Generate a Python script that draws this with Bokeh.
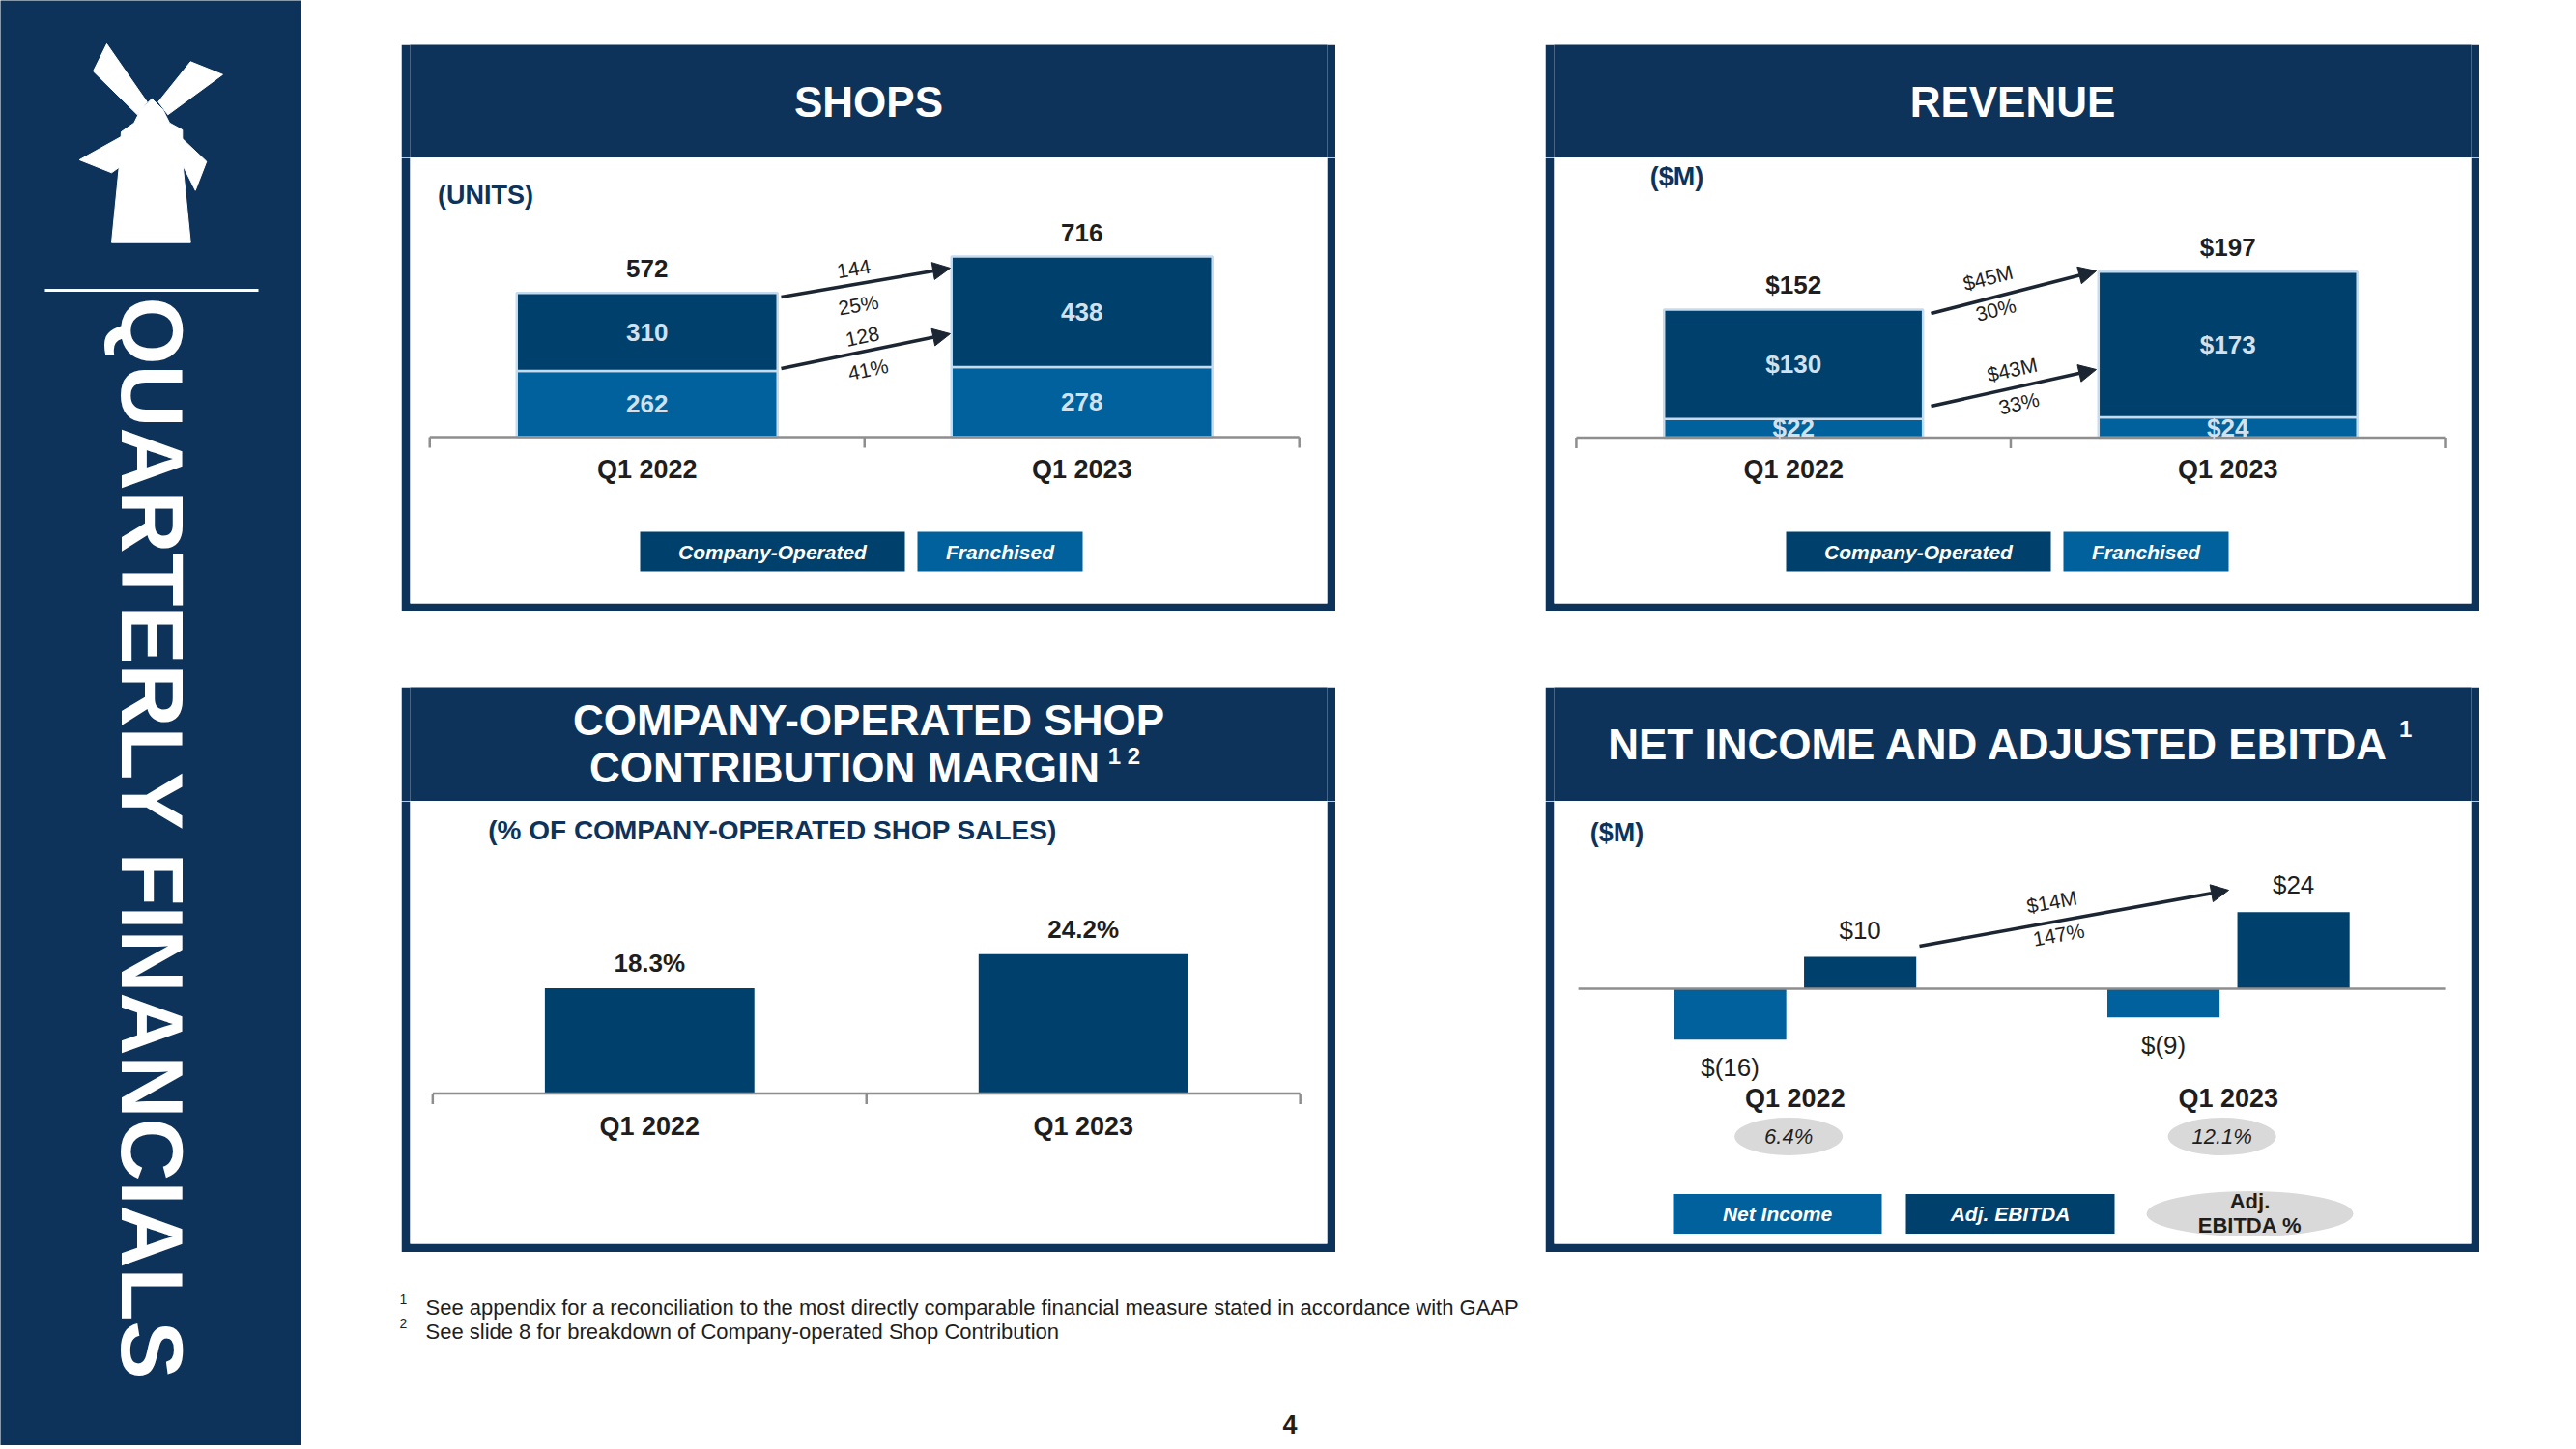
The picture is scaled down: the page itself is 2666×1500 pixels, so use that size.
import math
from bokeh.plotting import figure
from bokeh.models import Range1d, ColumnDataSource, Arrow, NormalHead, Spacer
from bokeh.layouts import row, column
from bokeh.transform import dodge
from bokeh.core.properties import value
from bokeh.embed import file_html
from bokeh.resources import INLINE

# ---------------- DATA ----------------
quarters = ["Q1 2022", "Q1 2023"]
shops_franchised = [262, 278]
shops_company = [310, 438]
shops_total = [572, 716]
shops_change = ["144", "128"]
shops_change_pct = ["25%", "41%"]
revenue_franchised = [22, 24]
revenue_company = [130, 173]
revenue_total = [152, 197]
revenue_change = ["$45M", "$43M"]
revenue_change_pct = ["30%", "33%"]
margin_pct = [18.3, 24.2]
net_income = [-16, -9]
adj_ebitda = [10, 24]
adj_ebitda_pct = [6.4, 12.1]
ebitda_change = "$14M"
ebitda_change_pct = "147%"
legend_stack = ["Company-Operated", "Franchised"]
legend_ni = ["Net Income", "Adj. EBITDA"]
legend_ni_pct = ["Adj.", "EBITDA %"]
footnotes = [
    "See appendix for a reconciliation to the most directly comparable financial measure stated in accordance with GAAP",
    "See slide 8 for breakdown of Company-operated Shop Contribution",
]

# category slot centres on a numeric axis (one unit per quarter)
qpos = [i + 0.5 for i in range(len(quarters))]
NQ = len(quarters)

# ---------------- STYLE ----------------
NAVY = "#0e335a"
BAR_DARK = "#00406c"
BAR_BLUE = "#00619d"
EDGE = "#c6dbee"
SEG_TXT = "#d3e1ee"
DARK = "#1e1e1e"
ARROW_C = "#1c2633"
GRAY = "#8e8e8e"
PILL = "#d9d9d9"
FONT = "Liberation Sans"
B = 9  # panel border thickness
PAGE_H = 1496


def base_fig(w, h, **kw):
    p = figure(width=w, height=h, output_backend="svg", toolbar_location=None,
               x_axis_location=None, y_axis_location=None, outline_line_color=None, **kw)
    p.grid.visible = False
    return p


def txt(p, x, y, t, size, color=DARK, style="normal", align="center", baseline="middle",
        angle=0.0, xr=None, yr=None, y_offset=0):
    kw = {}
    if xr:
        kw["x_range_name"] = xr
    if yr:
        kw["y_range_name"] = yr
    p.text(x=x, y=y, text=t, text_font=value(FONT), text_font_size=f"{size}px",
           text_font_style=style, text_color=color, text_align=align,
           text_baseline=baseline, angle=angle, y_offset=y_offset, **kw)


def header_fig(x0, y0, w, h):
    return base_fig(w, h, x_range=Range1d(x0, x0 + w), y_range=Range1d(y0 + h, y0),
                    min_border=0, background_fill_color=NAVY, border_fill_color=NAVY)


def body_fig(x0, y0, w, h, base_px, scale, pad_l, pad_r):
    fl, fr, ft, fb = x0 + B, x0 + w - B, y0, y0 + h - B
    p = base_fig(w, h,
                 x_range=Range1d(-pad_l, NQ + pad_r),
                 y_range=Range1d(-(fb - base_px) / scale, (base_px - ft) / scale),
                 min_border_left=B, min_border_right=B, min_border_bottom=B, min_border_top=0,
                 background_fill_color="white", border_fill_color=NAVY)
    p.extra_x_ranges = {"px": Range1d(fl, fr)}
    p.extra_y_ranges = {"px": Range1d(fb, ft)}
    return p


def cat_axis(p, scale, ticks=True):
    p.segment(x0=[0], y0=[0], x1=[NQ], y1=[0], line_color=GRAY, line_width=2.5)
    if ticks:
        pos = list(range(NQ + 1))
        p.segment(x0=pos, y0=[0] * (NQ + 1), x1=pos, y1=[-11 / scale] * (NQ + 1),
                  line_color=GRAY, line_width=2.5)


def arrow(p, xs, ys, xe, ye):
    p.add_layout(Arrow(x_start=xs, y_start=ys, x_end=xe, y_end=ye,
                       x_range_name="px", y_range_name="px",
                       line_color=ARROW_C, line_width=3.5,
                       end=NormalHead(size=18, fill_color=ARROW_C, line_color=ARROW_C)))
    return math.atan2(ys - ye, xe - xs)


def legend_box(p, cx, cy, w, h, color, label):
    p.rect(x=[cx], y=[cy], width=w, height=h, width_units="screen", height_units="screen",
           fill_color=color, line_color=None, x_range_name="px", y_range_name="px")
    txt(p, [cx], [cy], [label], 21, "white", "bold italic", xr="px", yr="px")


def stacked_panel(x0, title, unit_label, unit_pos, fr_vals, co_vals, tot_vals, fmt,
                  scale, base_px, width, pads, arrows, legend_x):
    hd = header_fig(x0, 46, 967, 117)
    txt(hd, [x0 + 483.5], [104.5], [title], 44, "white", "bold")
    bd = body_fig(x0, 163, 967, 470, base_px, scale, *pads)
    src = ColumnDataSource(dict(x=qpos, franchised=fr_vals, company=co_vals))
    bd.vbar_stack(["franchised", "company"], x="x", width=width,
                  color=[BAR_BLUE, BAR_DARK], line_color=EDGE, line_width=2.5, source=src)
    cat_axis(bd, scale)
    fr_mid = [f / 2 for f in fr_vals]
    co_mid = [f + c / 2 for f, c in zip(fr_vals, co_vals)]
    txt(bd, qpos + qpos, fr_mid + co_mid,
        [fmt(v) for v in fr_vals] + [fmt(v) for v in co_vals], 26, SEG_TXT, "bold")
    txt(bd, qpos, tot_vals, [fmt(v) for v in tot_vals], 26, DARK, "bold", y_offset=-25)
    txt(bd, qpos, [485] * NQ, quarters, 27, DARK, "bold", yr="px")
    txt(bd, [unit_pos[0]], [unit_pos[1]], [unit_label], 27, NAVY, "bold", xr="px", yr="px")
    for (xs, ys, xe, ye), (la, lb), (pa, pb) in arrows:
        ang = arrow(bd, xs, ys, xe, ye)
        txt(bd, [pa[0]], [pa[1]], [la], 21, DARK, angle=ang, xr="px", yr="px")
        txt(bd, [pb[0]], [pb[1]], [lb], 21, DARK, angle=ang, xr="px", yr="px")
    legend_box(bd, legend_x[0], 570.5, 274, 41, BAR_DARK, legend_stack[0])
    legend_box(bd, legend_x[1], 570.5, 171, 41, BAR_BLUE, legend_stack[1])
    return column(hd, bd)


# ---------------- SHOPS ----------------
shops_panel = stacked_panel(
    415, "SHOPS", "(UNITS)", (502, 201), shops_franchised, shops_company, shops_total,
    lambda v: f"{v}", 0.261, 452, 0.6, (0.045, 0.064),
    [((808, 307, 983, 277), (shops_change[0], shops_change_pct[0]), ((883, 278), (888, 315))),
     ((808, 381, 983, 345), (shops_change[1], shops_change_pct[1]), ((892, 348), (898, 382)))],
    (799, 1034.5))

# ---------------- REVENUE ----------------
rev_panel = stacked_panel(
    1599, "REVENUE", "($M)", (1735, 182), revenue_franchised, revenue_company, revenue_total,
    lambda v: f"${v}", 0.872, 452.5, 0.596, (0.051, 0.06),
    [((1998, 324, 2169, 280), (revenue_change[0], revenue_change_pct[0]), ((2057, 287), (2065, 320))),
     ((1998, 420, 2169, 382), (revenue_change[1], revenue_change_pct[1]), ((2082, 382), (2089, 417)))],
    (1985, 2220.5))

# ---------------- MARGIN ----------------
hd3 = header_fig(415, 711, 967, 118)
txt(hd3, [898.5], [745], ["COMPANY-OPERATED SHOP"], 44, "white", "bold")
txt(hd3, [873], [794], ["CONTRIBUTION MARGIN"], 44, "white", "bold")
txt(hd3, [1168], [782], ["1 2"], 24, "white", "bold")
m_scale = 5.96
bd3 = body_fig(415, 829, 967, 467, 1131.5, m_scale, 0.052, 0.062)
bd3.vbar(x=qpos, top=margin_pct, width=0.483, color=BAR_DARK, line_color=None)
cat_axis(bd3, m_scale)
txt(bd3, qpos, margin_pct, [f"{v:.1f}%" for v in margin_pct], 26, DARK, "bold", y_offset=-26)
txt(bd3, qpos, [1165] * NQ, quarters, 27, DARK, "bold", yr="px")
txt(bd3, [799], [859], ["(% OF COMPANY-OPERATED SHOP SALES)"], 28, NAVY, "bold", xr="px", yr="px")
margin_panel = column(hd3, bd3)

# ---------------- NET INCOME / EBITDA ----------------
hd4 = header_fig(1599, 711, 967, 118)
txt(hd4, [2068], [769.5], ["NET INCOME AND ADJUSTED EBITDA"], 44, "white", "bold")
txt(hd4, [2497], [754], ["1"], 24, "white", "bold")
n_scale = 3.3
bd4 = body_fig(1599, 829, 967, 467, 1023, n_scale, 0.056, 0.06)


def money(v):
    return f"$({abs(v)})" if v < 0 else f"${v}"


nsrc = ColumnDataSource(dict(x=qpos, ni=net_income, eb=adj_ebitda,
                             nit=[money(v) for v in net_income],
                             ebt=[money(v) for v in adj_ebitda],
                             pct=[f"{v:.1f}%" for v in adj_ebitda_pct],
                             py=[1176] * NQ, qy=[1136] * NQ, q=quarters))
bd4.vbar(x=dodge("x", -0.15), top="ni", bottom=0, width=0.259,
         color=BAR_BLUE, line_color=None, source=nsrc)
bd4.vbar(x=dodge("x", 0.15), top="eb", bottom=0, width=0.259,
         color=BAR_DARK, line_color=None, source=nsrc)
cat_axis(bd4, n_scale, ticks=False)
bd4.text(x=dodge("x", -0.15), y="ni", text="nit", source=nsrc,
         y_offset=29, text_font=value(FONT), text_font_size="26px", text_color=DARK,
         text_align="center", text_baseline="middle")
bd4.text(x=dodge("x", 0.15), y="eb", text="ebt", source=nsrc,
         y_offset=-28, text_font=value(FONT), text_font_size="26px", text_color=DARK,
         text_align="center", text_baseline="middle")
bd4.text(x="x", y="qy", text="q", source=nsrc, y_range_name="px",
         text_font=value(FONT), text_font_size="27px", text_font_style="bold",
         text_color=DARK, text_align="center", text_baseline="middle")
bd4.ellipse(x=dodge("x", -0.015), y="py", source=nsrc,
            width=112, height=39, width_units="screen", height_units="screen",
            fill_color=PILL, line_color=None, y_range_name="px")
bd4.text(x=dodge("x", -0.015), y="py", text="pct", source=nsrc, y_range_name="px",
         text_font=value(FONT), text_font_size="22px", text_font_style="italic",
         text_color=DARK, text_align="center", text_baseline="middle")
txt(bd4, [1673], [861], ["($M)"], 27, NAVY, "bold", xr="px", yr="px")
ang = arrow(bd4, 1986, 979, 2306, 921)
txt(bd4, [2123], [933], [ebitda_change], 21, DARK, angle=ang, xr="px", yr="px")
txt(bd4, [2130], [967], [ebitda_change_pct], 21, DARK, angle=ang, xr="px", yr="px")
legend_box(bd4, 1839, 1256, 216, 41, BAR_BLUE, legend_ni[0])
legend_box(bd4, 2080, 1256, 216, 41, BAR_DARK, legend_ni[1])
bd4.ellipse(x=[2328], y=[1256], width=214, height=47, width_units="screen", height_units="screen",
            fill_color=PILL, line_color=None, x_range_name="px", y_range_name="px")
txt(bd4, [2328, 2328], [1243, 1268], legend_ni_pct, 22, DARK, "bold", xr="px", yr="px")
ni_panel = column(hd4, bd4)

# ---------------- FOOTER ----------------
foot = base_fig(2347, PAGE_H - 1296, x_range=Range1d(311, 2658), y_range=Range1d(PAGE_H, 1296),
                min_border=0, background_fill_color="white", border_fill_color="white")
txt(foot, [417, 417], [1344, 1369], ["1", "2"], 14, DARK)
txt(foot, [440, 440], [1353, 1378], footnotes, 22, DARK, align="left")
txt(foot, [1334.5], [1474], ["4"], 27, DARK, "bold")

# ---------------- SIDEBAR ----------------
side = base_fig(311, PAGE_H, x_range=Range1d(0, 311), y_range=Range1d(PAGE_H, 0),
                min_border=0, background_fill_color=NAVY, border_fill_color=NAVY)
mill_xs = [
    [110, 96, 141.7, 151.7],
    [196.7, 230, 173.3, 163.3],
    [81.7, 126.7, 126.7, 115],
    [185, 213.3, 201.7, 188.3],
    [115, 123.3, 125, 138.3, 145, 156.7, 168.3, 175, 188.3, 188.3, 196.7],
]
mill_ys = [
    [45, 73.3, 118.3, 105],
    [63.3, 76.7, 118.3, 105],
    [165, 140, 170, 178.3],
    [140, 166.7, 196.7, 170],
    [250.7, 166.7, 136, 126.7, 113.3, 101.7, 113.3, 126.7, 134, 166.7, 250.7],
]
side.patches(xs=mill_xs, ys=mill_ys, fill_color="white", line_color="white", line_width=1)
side.segment(x0=[46], y0=[300], x1=[267], y1=[300], line_color="white", line_width=3)
txt(side, [156], [307], ["QUARTERLY FINANCIALS"], 90, "white", "bold", align="left",
    baseline="middle", angle=-math.pi / 2)

# ---------------- LAYOUT ----------------
row1 = row(Spacer(width=104, height=587), shops_panel, Spacer(width=217, height=587), rev_panel)
row2 = row(Spacer(width=104, height=585), margin_panel, Spacer(width=217, height=585), ni_panel)
main = column(Spacer(width=10, height=46), row1, Spacer(width=10, height=78), row2, foot)
page = row(side, main)

open("out.html", "w").write(file_html(page, INLINE))
